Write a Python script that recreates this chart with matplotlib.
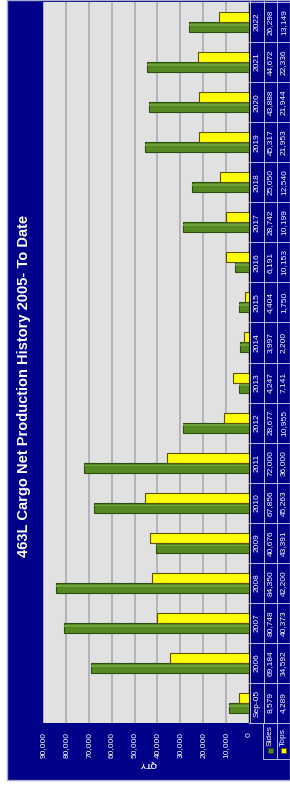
import matplotlib
matplotlib.use("Agg")
import matplotlib.pyplot as plt
from matplotlib.patches import Rectangle
from matplotlib.transforms import blended_transform_factory
from matplotlib.lines import Line2D

plt.rcParams['font.family'] = ['Liberation Sans', 'DejaVu Sans']

categories = ["Sep-05", "2006", "2007", "2008", "2009", "2010", "2011", "2012", "2013",
              "2014", "2015", "2016", "2017", "2018", "2019", "2020", "2021", "2022"]
sides = [8579, 69184, 80748, 84350, 40676, 67856, 72000, 28677, 4247,
         3997, 4404, 6191, 28742, 25050, 45317, 43888, 44672, 26298]
tops = [4289, 34592, 40373, 42200, 43391, 45263, 36000, 10955, 7141,
        2200, 1750, 10153, 10199, 12540, 21953, 21944, 22336, 13149]
value_ticks = [0, 10000, 20000, 30000, 40000, 50000, 60000, 70000, 80000, 90000]
title = "463L Cargo Net Production History 2005- To Date"
axis_label = "QTY"
series_names = ["Sides", "Tops"]

W, H = 290, 786
NAVY = "#000088"
GREEN = "#558A22"
GREEN_EDGE = "#2E4E10"
YELLOW = "#FFFF00"
YELLOW_EDGE = "#5A5000"

def fx(px):
    return px / W

def fy(py):
    return 1 - py / H

fig = plt.figure(figsize=(W / 100, H / 100), dpi=100, facecolor="white")

# navy frame
fig.patches.append(Rectangle((fx(7), fy(780)), fx(290) - fx(7), fy(0) - fy(780),
                             transform=fig.transFigure, facecolor=NAVY,
                             edgecolor="#A8A8D0", linewidth=1.0, zorder=-10))

ax = fig.add_axes([fx(43), fy(723), fx(249) - fx(43), fy(2) - fy(723)])
ax.set_zorder(5)
ax.set_facecolor("#E1E1E1")
n = len(categories)
idx = list(range(n))
bw = 0.25
ax.barh([i - bw / 2 for i in idx], sides, height=bw, color=GREEN,
        edgecolor=GREEN_EDGE, linewidth=0.8, zorder=3)
ax.barh([i + bw / 2 for i in idx], tops, height=bw, color=YELLOW,
        edgecolor=YELLOW_EDGE, linewidth=0.8, zorder=3)
# light highlight strip on green bars (3D look)
ax.barh([i - bw / 2 + bw * 0.22 for i in idx], sides, height=bw * 0.18,
        color="#6FA236", linewidth=0, zorder=4)

ax.set_xlim(90000, 0)
ax.set_ylim(-0.5, n - 0.5)
ax.set_yticks([])
ax.set_xticks(value_ticks)
ax.set_xticklabels([f"{v:,}" for v in value_ticks])
ax.tick_params(axis="x", length=0, pad=6.5, labelrotation=90, labelcolor="white",
               labelsize=6)
ax.grid(axis="x", color="#A6A6B0", linewidth=1.1, zorder=1)
ax.set_axisbelow(True)
for s in ax.spines.values():
    s.set_visible(False)

# title
fig.text(fx(24), fy(386), title, rotation=90, color="white", fontsize=10.5,
         fontweight="bold", ha="center", va="center", zorder=6)
# axis label
fig.text(fx(148), fy(763), axis_label, rotation=180, color="white", fontsize=6,
         fontweight="bold", ha="center", va="center", zorder=6)

# data table
tr = blended_transform_factory(fig.transFigure, ax.transData)
line_col = "#B8B8E0"
col_x = [fx(250), fx(264), fx(277), fx(290)]
for x in col_x:
    fig.add_artist(Line2D([x, x], [fy(723), fy(1)], transform=fig.transFigure,
                          color=line_col, linewidth=0.7, zorder=6))
for i in range(n + 1):
    y = i - 0.5
    fig.add_artist(Line2D([fx(249), fx(290)], [y, y], transform=tr,
                          color=line_col, linewidth=0.7, zorder=6))
for i, cat in enumerate(categories):
    fig.text(fx(257), i, cat, transform=tr, rotation=90, color="white",
             fontsize=6, ha="center", va="center", zorder=6)
    fig.text(fx(270.5), i, f"{sides[i]:,}", transform=tr, rotation=90,
             color="white", fontsize=6, ha="center", va="center", zorder=6)
    fig.text(fx(283.5), i, f"{tops[i]:,}", transform=tr, rotation=90,
             color="white", fontsize=6, ha="center", va="center", zorder=6)

# legend cells
for x in [fx(263), fx(277), fx(290)]:
    fig.add_artist(Line2D([x, x], [fy(759), fy(723)], transform=fig.transFigure,
                          color=line_col, linewidth=0.7, zorder=6))
fig.add_artist(Line2D([fx(263), fx(290)], [fy(759), fy(759)],
                      transform=fig.transFigure, color=line_col, linewidth=0.7, zorder=6))
for name, xc, fc, ec in [(series_names[0], 270.5, GREEN, GREEN_EDGE),
                         (series_names[1], 283.5, YELLOW, YELLOW_EDGE)]:
    fig.patches.append(Rectangle((fx(xc - 2.5), fy(753)), fx(5), fy(748) - fy(753),
                                 transform=fig.transFigure, facecolor=fc,
                                 edgecolor=ec, linewidth=0.5, zorder=6))
    fig.text(fx(xc), fy(746), name, rotation=90, color="white", fontsize=6,
             ha="center", va="bottom", zorder=6)

fig.savefig("out.png", dpi=100, facecolor="white")
